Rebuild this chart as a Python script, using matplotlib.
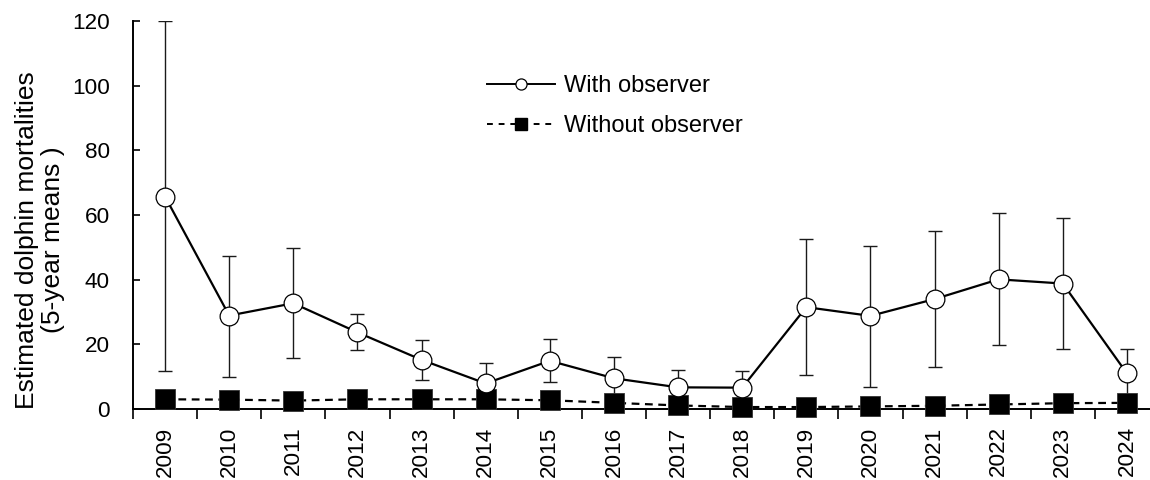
import matplotlib
matplotlib.use("Agg")
import matplotlib.pyplot as plt
from matplotlib.lines import Line2D
import numpy as np

plt.rcParams['font.family'] = ['Liberation Sans', 'DejaVu Sans']

years = ['2009', '2010', '2011', '2012', '2013', '2014', '2015', '2016',
         '2017', '2018', '2019', '2020', '2021', '2022', '2023', '2024']
with_obs = [65.7, 28.9, 32.7, 23.7, 15.2, 7.9, 14.9, 9.5,
            6.7, 6.6, 31.5, 28.8, 34.0, 40.1, 38.8, 11.0]
with_upper = [120.0, 47.4, 49.7, 29.4, 21.4, 14.3, 21.7, 16.0,
              12.1, 11.8, 52.5, 50.4, 55.1, 60.5, 59.2, 18.7]
with_lower = [11.7, 9.9, 15.9, 18.2, 9.0, 1.5, 8.4, 3.0,
              1.3, 1.4, 10.4, 6.8, 13.0, 19.9, 18.6, 3.0]
without_obs = [3.0, 2.9, 2.6, 3.0, 3.0, 3.0, 2.7, 1.9,
               1.1, 0.6, 0.6, 0.8, 1.0, 1.4, 1.8, 1.9]

W, H = 1150, 480
fig = plt.figure(figsize=(W / 100, H / 100), dpi=100)
left, right, top, bottom = 133, 1159, 21, 409
ax = fig.add_axes([left / W, (H - bottom) / H, (right - left) / W, (bottom - top) / H])

x = np.arange(len(years))
yerr = [np.array(with_obs) - np.array(with_lower), np.array(with_upper) - np.array(with_obs)]

ax.errorbar(x, with_obs, yerr=yerr, fmt='none', ecolor='#1a1a1a', elinewidth=1.0,
            capsize=4.7, capthick=1.0, zorder=2)
ax.plot(x, without_obs, color='black', lw=1.6, ls=(0, (3.5, 2.5)), zorder=3)
ax.plot(x, without_obs, ls='none', marker='s', ms=14, mfc='black', mec='#333333',
        mew=0.6, zorder=4, clip_on=False)
ax.plot(x, with_obs, color='black', lw=1.6, marker='o', ms=13.5, mfc='white',
        mec='black', mew=0.9, zorder=5, clip_on=False)

ax.set_xlim(-0.5, len(years) - 0.5)
ax.set_ylim(0, 120)
ax.set_yticks(np.arange(0, 121, 20))
ax.set_xticks(x)
ax.set_xticklabels(years, rotation=90, fontsize=16.2)
ax.set_xticks(np.arange(-0.5, len(years), 1.0), minor=True)
ax.tick_params(axis='x', which='major', length=0, pad=12.5)
ax.tick_params(axis='x', which='minor', length=7, width=1.2, direction='out')
ax.tick_params(axis='y', which='major', length=5, width=1.2, direction='in',
               labelsize=16.2, pad=16.5)
for s in ['top', 'right']:
    ax.spines[s].set_visible(False)
for s in ['left', 'bottom']:
    ax.spines[s].set_linewidth(1.4)
    ax.spines[s].set_zorder(3.5)

fig.text(40 / W, (H - 240) / H, 'Estimated dolphin mortalities\n(5-year means )',
         rotation=90, ha='center', va='center', multialignment='center',
         fontsize=19, linespacing=1.1)

handles = [
    Line2D([], [], color='black', lw=1.4, marker='o', ms=8, mfc='white', mec='black', mew=0.9),
    Line2D([], [], color='black', lw=1.4, ls=(0, (3, 3)), marker='s', ms=8, mfc='black', mec='black'),
]
fig.legend(handles, ['With observer', 'Without observer'], loc='upper left',
           bbox_to_anchor=(487 / W, 1 - 75 / H), frameon=False, fontsize=17,
           handlelength=2.9, handletextpad=0.36, labelspacing=0.78,
           borderpad=0, borderaxespad=0)

fig.savefig('out.png', dpi=100)
